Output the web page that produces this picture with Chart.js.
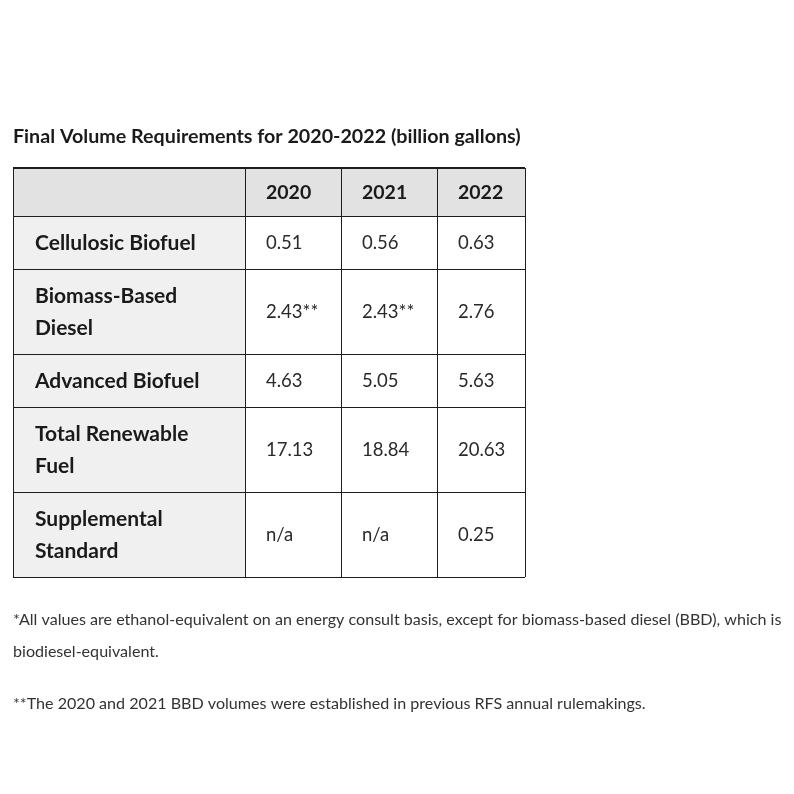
<!DOCTYPE html>
<html><head><meta charset="utf-8">
<script src="https://cdn.jsdelivr.net/npm/chart.js@4/dist/chart.umd.min.js"></script>
<style>html,body{margin:0;padding:0;background:#fff;} canvas{display:block}</style>
</head><body>
<canvas id="c" width="794" height="794"></canvas>
<script>
// ---- data ----
const title = "Final Volume Requirements for 2020-2022 (billion gallons)";
const categories = [["Cellulosic Biofuel"], ["Biomass-Based", "Diesel"], ["Advanced Biofuel"], ["Total Renewable", "Fuel"], ["Supplemental", "Standard"]];
const years = ["2020", "2021", "2022"];
const values2020 = [0.51, 2.43, 4.63, 17.13, null];
const values2021 = [0.56, 2.43, 5.05, 18.84, null];
const values2022 = [0.63, 2.76, 5.63, 20.63, 0.25];
const notes2020 = ["", "**", "", "", ""];
const notes2021 = ["", "**", "", "", ""];
const notes2022 = ["", "", "", "", ""];
const footnotes = [
  ["*All values are ethanol-equivalent on an energy consult basis, except for biomass-based diesel (BBD), which is", "biodiesel-equivalent."],
  ["**The 2020 and 2021 BBD volumes were established in previous RFS annual rulemakings."]
];

// ---- layout / style ----
const FONT = "Lato";
const colWidths = [232, 96, 96, 88];
const headerHeight = 48;
const lineHeight = 32;
const rowPad = 21;
const series = [values2020, values2021, values2022];
const notes = [notes2020, notes2021, notes2022];

const colEdges = [0];
colWidths.forEach(w => colEdges.push(colEdges[colEdges.length - 1] + w));
const rowEdges = [0, headerHeight];
categories.forEach(lines => rowEdges.push(rowEdges[rowEdges.length - 1] + rowPad + lines.length * lineHeight));
const totalW = colEdges[colEdges.length - 1];
const totalH = rowEdges[rowEdges.length - 1];

const tablePlugin = {
  id: 'tablePlugin',
  beforeDraw(chart) {
    const ctx = chart.ctx, xs = chart.scales.x, ys = chart.scales.y;
    ctx.save();
    ctx.fillStyle = '#f0f0f0';
    ctx.fillRect(xs.getPixelForValue(colEdges[0]), ys.getPixelForValue(rowEdges[1]),
      xs.getPixelForValue(colEdges[1]) - xs.getPixelForValue(colEdges[0]),
      ys.getPixelForValue(totalH) - ys.getPixelForValue(rowEdges[1]));
    ctx.fillStyle = '#e2e2e2';
    ctx.fillRect(xs.getPixelForValue(0), ys.getPixelForValue(0),
      xs.getPixelForValue(totalW) - xs.getPixelForValue(0),
      ys.getPixelForValue(rowEdges[1]) - ys.getPixelForValue(0));
    ctx.restore();
  },
  afterDraw(chart) {
    const ctx = chart.ctx, xs = chart.scales.x, ys = chart.scales.y;
    const area = chart.chartArea;
    ctx.save();
    ctx.textBaseline = 'middle';
    ctx.textAlign = 'left';
    // title
    ctx.fillStyle = '#1a1a1a';
    ctx.font = `bold 19.7px ${FONT}`;
    ctx.fillText(title, area.left, area.top - 31);
    // header
    ctx.font = `bold 19.5px ${FONT}`;
    const hy = ys.getPixelForValue(rowEdges[0] + headerHeight / 2) + 1;
    years.forEach((yr, c) => {
      ctx.fillText(yr, xs.getPixelForValue(colEdges[c + 1]) + 21, hy);
    });
    // rows
    categories.forEach((lines, r) => {
      const cy = ys.getPixelForValue((rowEdges[r + 1] + rowEdges[r + 2]) / 2) + 0.5;
      ctx.font = `bold 21px ${FONT}`;
      ctx.fillStyle = '#1a1a1a';
      lines.forEach((ln, i) => {
        ctx.fillText(ln, xs.getPixelForValue(colEdges[0]) + 22, cy + (i - (lines.length - 1) / 2) * lineHeight);
      });
      ctx.font = `18.5px ${FONT}`;
      ctx.fillStyle = '#2a2a2a';
      series.forEach((vals, c) => {
        const v = vals[r];
        const txt = v === null ? 'n/a' : v.toFixed(2) + notes[c][r];
        ctx.fillText(txt, xs.getPixelForValue(colEdges[c + 1]) + 21, cy);
      });
    });
    // footnotes
    ctx.font = `16.1px ${FONT}`;
    ctx.fillStyle = '#333333';
    let fy = area.bottom + 43;
    footnotes.forEach(para => {
      para.forEach(ln => {
        ctx.fillText(ln, area.left, fy);
        fy += lineHeight;
      });
      fy += 20;
    });
    ctx.restore();
  }
};

new Chart(document.getElementById('c'), {
  type: 'scatter',
  data: { datasets: [] },
  options: {
    responsive: false,
    maintainAspectRatio: false,
    animation: false,
    layout: { padding: { left: 13, top: 168, right: 269, bottom: 217 } },
    plugins: { legend: { display: false }, tooltip: { enabled: false }, title: { display: false } },
    scales: {
      x: {
        type: 'linear', min: 0, max: totalW,
        afterBuildTicks: s => { s.ticks = colEdges.map(v => ({ value: v })); },
        ticks: { display: false },
        grid: { color: '#1e1e1e', lineWidth: 1, drawTicks: false },
        border: { display: false }
      },
      y: {
        type: 'linear', reverse: true, min: 0, max: totalH,
        afterBuildTicks: s => { s.ticks = rowEdges.map(v => ({ value: v })); },
        ticks: { display: false },
        grid: { color: '#1e1e1e', lineWidth: c => (c.tick && c.tick.value === 0 ? 2 : 1), drawTicks: false },
        border: { display: false }
      }
    }
  },
  plugins: [tablePlugin]
});
</script>
</body></html>
